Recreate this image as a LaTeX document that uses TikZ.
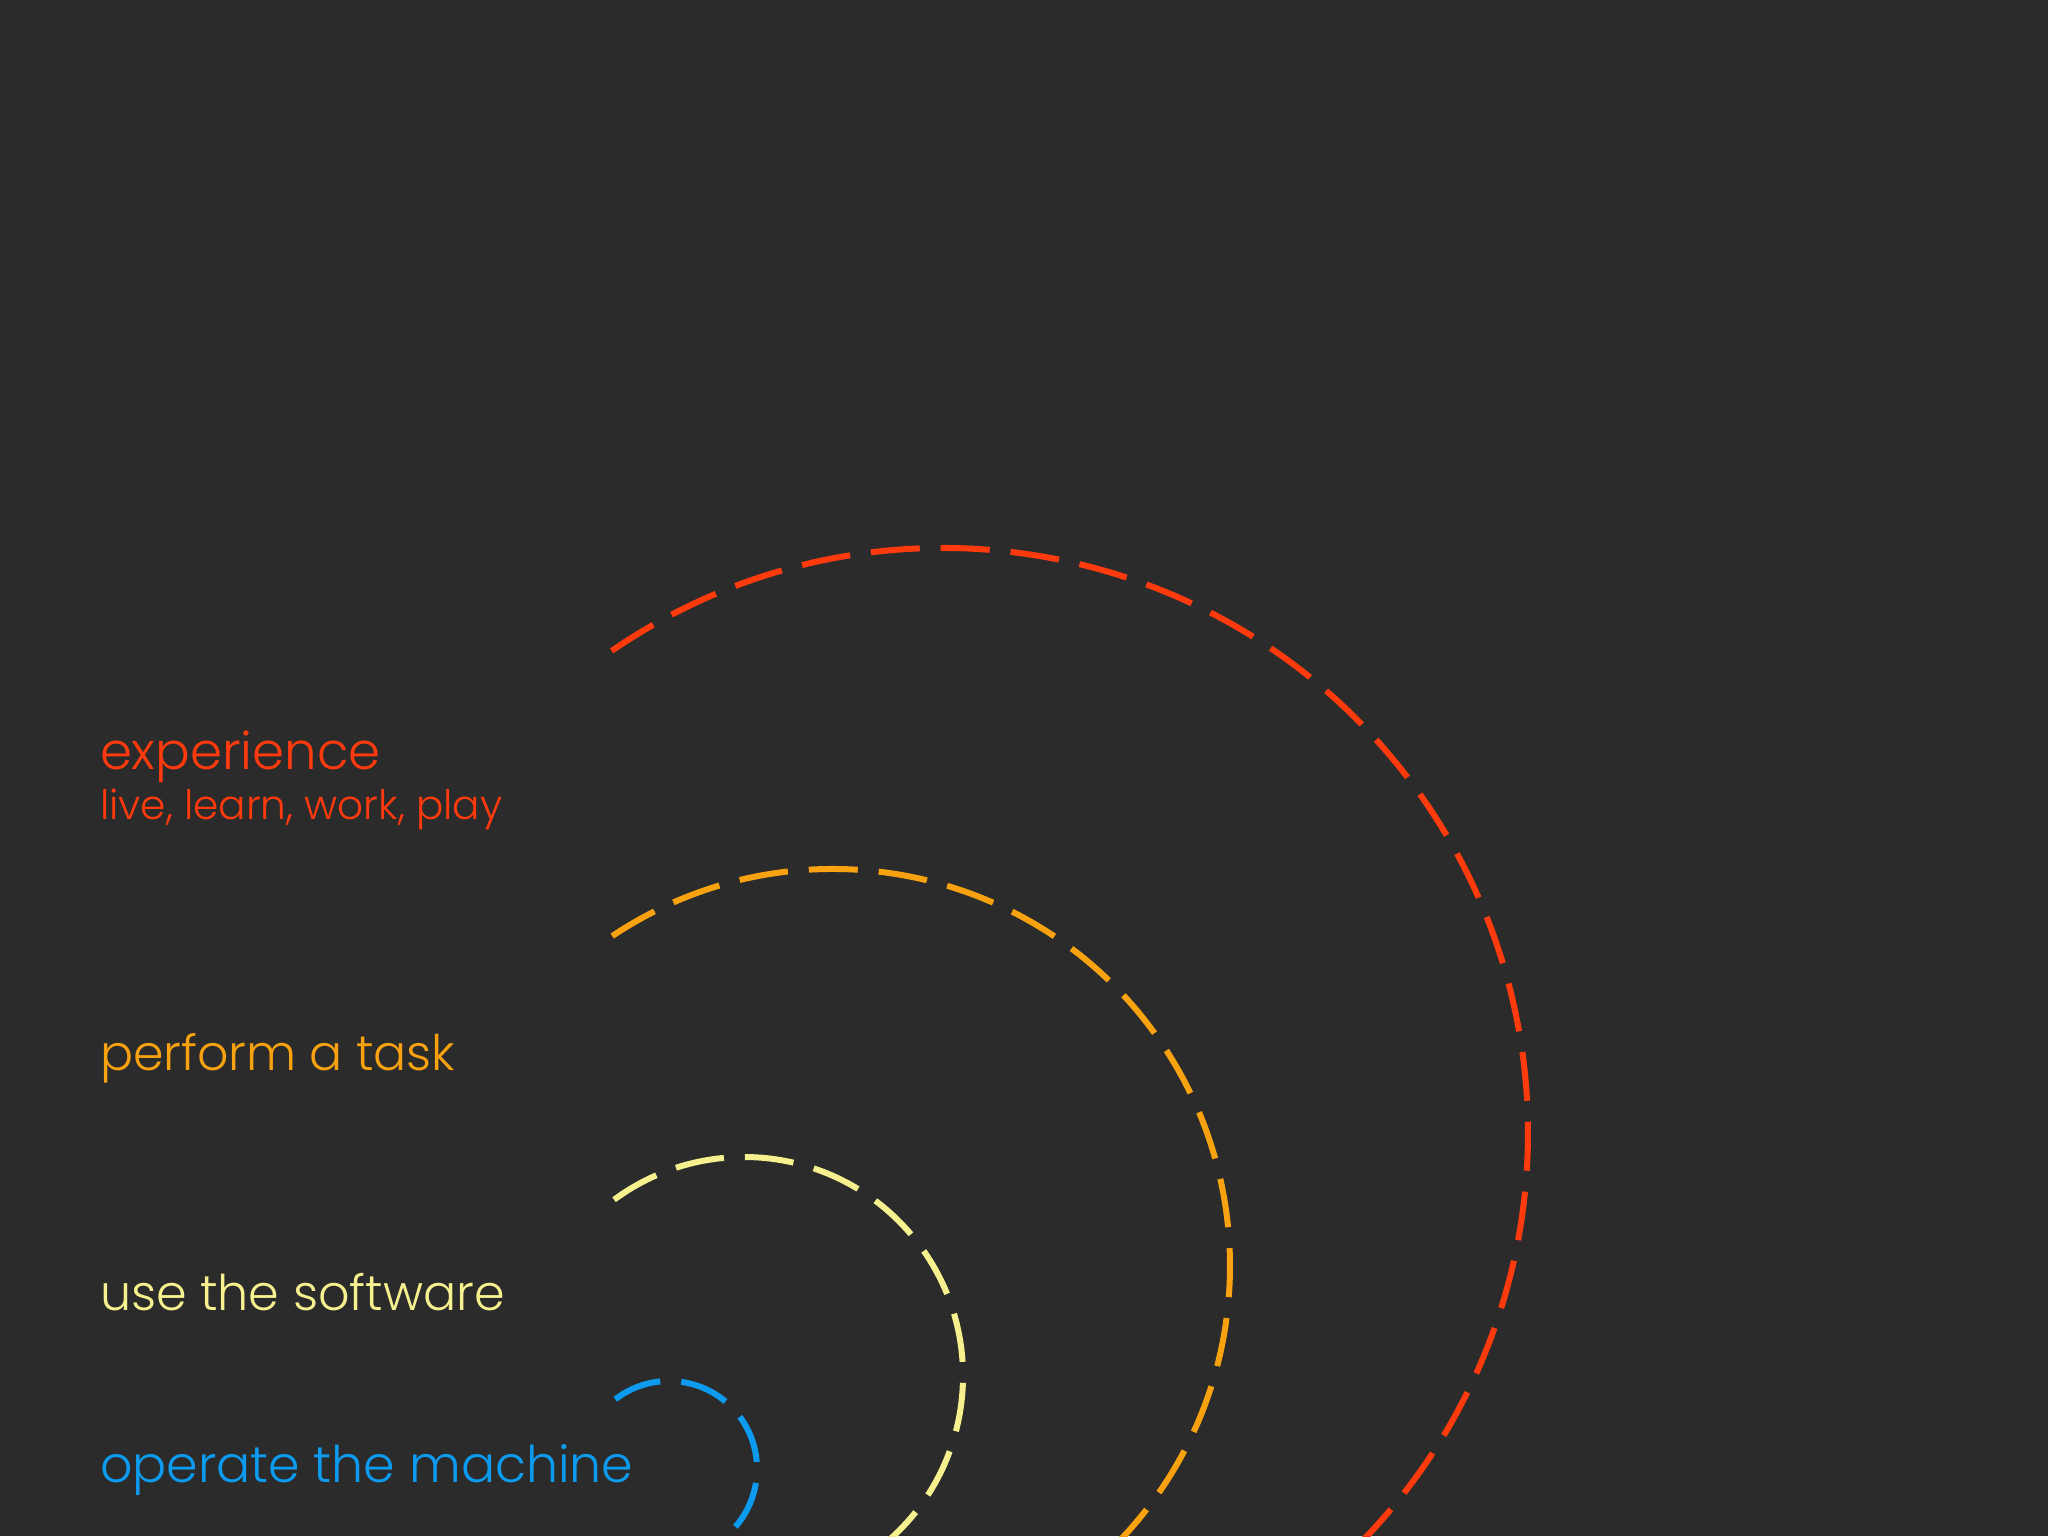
\documentclass[tikz,border=0pt]{standalone}
\usepackage{fontspec}
\setmainfont{Poppins Light}
\definecolor{bgc}{HTML}{2B2B2C}
\definecolor{cred}{HTML}{FF3A0C}
\definecolor{corange}{HTML}{F9A20F}
\definecolor{cyellow}{HTML}{F6F18E}
\definecolor{cblue}{HTML}{0C9BEF}
\begin{document}
\begin{tikzpicture}[x=0.5pt,y=0.5pt,
  ring/.style={line width=3pt, dash pattern=on 24.5pt off 10.5pt},
  lbl/.style={anchor=base west, inner sep=0pt, outer sep=0pt}]
\fill[bgc] (0,0) rectangle (2048,1536);
\useasboundingbox (0,0) rectangle (2048,1536);
\clip (0,0) rectangle (2048,1536);
% ring centres
\coordinate (cr) at (943,403);
\coordinate (co) at (833,270);
\coordinate (cy) at (744,160);
\coordinate (cb) at (669,67);
\draw[ring, cred] (cr) ++(124.5:292.5pt) arc[start angle=124.5, end angle=-70, radius=292.5pt];
\draw[ring, corange] (co) ++(123.8:198.5pt) arc[start angle=123.8, end angle=-80, radius=198.5pt];
\draw[ring, cyellow] (cy) ++(126.4:109.5pt) arc[start angle=126.4, end angle=-90, radius=109.5pt];
\draw[ring, cblue] (cb) ++(127.6:44pt) arc[start angle=127.6, end angle=-100, radius=44pt];
% labels
\node[lbl, text=cred, font=\fontsize{25.7}{30}\selectfont] (exp) at (100,766) {experience};
\node[lbl, text=cred, font=\fontsize{20.3}{24}\selectfont] (llwp) at (100,716) {live, learn, work, play};
\node[lbl, text=corange, font=\fontsize{24.5}{30}\selectfont] (task) at (100,465) {perform a task};
\node[lbl, text=cyellow, font=\fontsize{24.6}{30}\selectfont] (soft) at (100,226) {use the software};
\node[lbl, text=cblue, font=\fontsize{25.3}{30}\selectfont] (mach) at (100,54) {operate the machine};
\end{tikzpicture}
\end{document}
